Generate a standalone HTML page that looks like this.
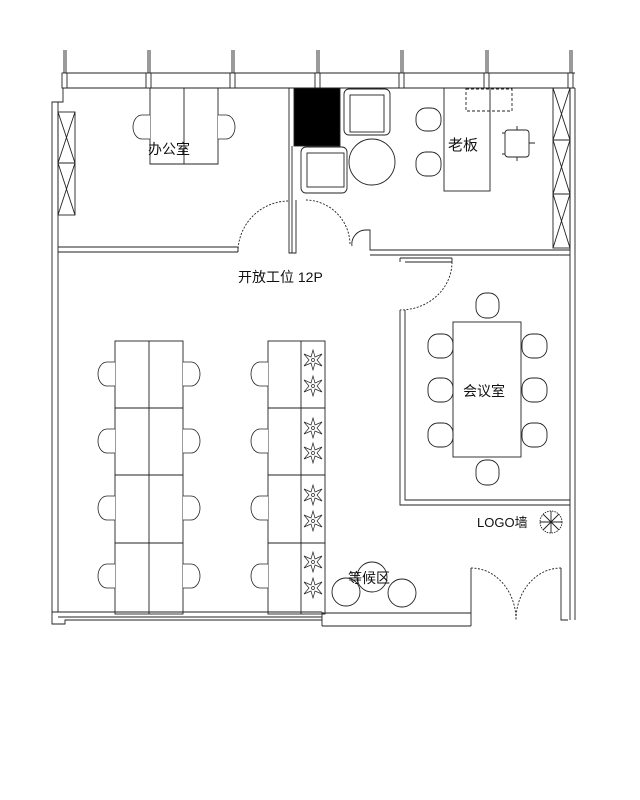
<!DOCTYPE html>
<html><head><meta charset="utf-8"><style>
html,body{margin:0;padding:0;background:#fff;}
svg{display:block}
text{font-family:"Liberation Sans","Noto Sans CJK SC",sans-serif;fill:#111}
</style></head><body>
<svg width="640" height="800" viewBox="0 0 640 800" xmlns="http://www.w3.org/2000/svg">
<defs>
<g id="chL"><path d="M0,0 h-8 a9,12 0 0 0 0,24 h8" fill="#fff" stroke="#222" stroke-width="0.8"/></g>
<g id="chR"><path d="M0,0 h8 a9,12 0 0 1 0,24 h-8" fill="#fff" stroke="#222" stroke-width="0.8"/></g>
<g id="plant" stroke="#222" stroke-width="0.7" fill="none">
<path d="M0,-10 L2,-3 L9,-6 L4,0 L9,6 L2,3 L0,10 L-2,3 L-9,6 L-4,0 L-9,-6 L-2,-3 Z"/>
<circle r="1.5"/>
</g>
</defs>
<g fill="none" stroke="#222" stroke-width="0.9">
<line x1="63" y1="73" x2="575" y2="73"/>
<line x1="63" y1="88" x2="575" y2="88"/>
<g fill="#fff">
<rect x="62" y="73" width="5" height="15"/><rect x="146" y="73" width="5" height="15"/>
<rect x="230" y="73" width="5" height="15"/><rect x="315" y="73" width="5" height="15"/>
<rect x="399" y="73" width="5" height="15"/><rect x="484" y="73" width="5" height="15"/>
<rect x="568" y="73" width="5" height="15"/>
</g>
<path d="M64,50V73 M66,50V73 M148,50V73 M150,50V73 M232,50V73 M234,50V73 M317,50V73 M319,50V73 M401,50V73 M403,50V73 M486,50V73 M488,50V73 M570,50V73 M572,50V73"/>
<path d="M63,88V102H52V617 M58,102V612"/>
<rect x="58" y="112" width="17" height="103"/>
<path d="M58,112L75,163M75,112L58,163M58,163H75M58,163L75,215M75,163L58,215"/>
<path d="M58,247H238 M58,252H238 M238,247V252"/>
<path d="M238,252 A51,51 0 0 1 289,201" stroke-dasharray="2,1.5"/>
<path d="M289,88V253H296V200 M292,146V253"/>
<rect x="294" y="88" width="46" height="58" fill="#000"/>
<path d="M306,200 A45,45 0 0 1 350,245" stroke-dasharray="2,1.5"/>
<path d="M352,246 A14,14 0 0 1 366,230 H370 V250 H570 M370,255 H570"/>
<path d="M570,88V620 M575,88V620"/>
<rect x="553" y="88" width="17" height="160"/>
<path d="M553,88L570,140M570,88L553,140M553,140H570M553,140L570,194M570,140L553,194M553,194H570M553,194L570,248M570,194L553,248"/>
<!-- office desk -->
<path d="M150,88V164H218V88 M184,88V164"/>
<use href="#chL" x="150" y="115"/><use href="#chR" x="218" y="115"/>
<rect x="344" y="89" width="46" height="46" rx="5"/><rect x="350" y="95" width="34" height="37"/>
<rect x="301" y="147" width="46" height="46" rx="5"/><rect x="307" y="153" width="37" height="34"/>
<circle cx="372" cy="162" r="23"/>
<rect x="416" y="108" width="25" height="23" rx="10"/>
<rect x="416" y="152" width="25" height="24" rx="10"/>
<rect x="444" y="88" width="46" height="103"/>
<rect x="466" y="89" width="46" height="22" stroke-dasharray="3,2"/>
<rect x="505" y="130" width="24" height="27" rx="3"/>
<path d="M529,143h6 M517,130v-4 M517,157v4 M505,133h-3 M505,154h-3"/>
<path d="M400,258H452 M400,258V262 M405,262H452 V258"/>
<path d="M452,262 A52,48 0 0 1 400,310" stroke-dasharray="2,1.5"/>
<path d="M400,310V505H570 M405,310V500H570"/>
<rect x="453" y="322" width="68" height="135"/>
<rect x="476" y="293" width="23" height="25" rx="10"/>
<rect x="476" y="460" width="23" height="25" rx="10"/>
<rect x="428" y="334" width="25" height="24" rx="10"/><rect x="428" y="378" width="25" height="24" rx="10"/><rect x="428" y="423" width="25" height="24" rx="10"/>
<rect x="522" y="334" width="25" height="24" rx="10"/><rect x="522" y="378" width="25" height="24" rx="10"/><rect x="522" y="423" width="25" height="24" rx="10"/>
<rect x="115" y="341" width="68" height="273"/>
<path d="M149,341V614 M115,408H183 M115,475H183 M115,543H183"/>
<use href="#chL" x="115" y="362"/><use href="#chL" x="115" y="429"/><use href="#chL" x="115" y="496"/><use href="#chL" x="115" y="564"/>
<use href="#chR" x="183" y="362"/><use href="#chR" x="183" y="429"/><use href="#chR" x="183" y="496"/><use href="#chR" x="183" y="564"/>
<rect x="268" y="341" width="57" height="273"/>
<path d="M301,341V614 M268,408H325 M268,475H325 M268,543H325"/>
<use href="#chL" x="268" y="362"/><use href="#chL" x="268" y="429"/><use href="#chL" x="268" y="496"/><use href="#chL" x="268" y="564"/>
<use href="#plant" x="313" y="360"/><use href="#plant" x="313" y="386"/>
<use href="#plant" x="313" y="428"/><use href="#plant" x="313" y="453"/>
<use href="#plant" x="313" y="495"/><use href="#plant" x="313" y="521"/>
<use href="#plant" x="313" y="562"/><use href="#plant" x="313" y="588"/>
<ellipse cx="372" cy="577" rx="15" ry="15"/>
<ellipse cx="346" cy="592" rx="14" ry="14"/>
<ellipse cx="402" cy="593" rx="14" ry="14"/>
<path d="M52,612H322 M58,617H322 M52,617V624H65V620H322 M322,612V626 M322,613H471 M322,626H471 M471,568V626"/>
<path d="M561,568V620H568"/>
<path d="M471,568 A45,52 0 0 1 516,620" stroke-dasharray="2,1.5"/>
<path d="M561,568 A45,52 0 0 0 516,620" stroke-dasharray="2,1.5"/>
<circle cx="551" cy="522" r="11" stroke-dasharray="1.5,1"/>
<path d="M540,522H562M551,511V533M543,514L559,530M559,514L543,530"/>
</g>
<text x="148" y="154" font-size="14">办公室</text>
<text x="448" y="150" font-size="15">老板</text>
<text x="238" y="282" font-size="14">开放工位 12P</text>
<text x="463" y="396" font-size="14">会议室</text>
<text x="477" y="527" font-size="13">LOGO墙</text>
<text x="348" y="583" font-size="14">等候区</text>
</svg>
</body></html>
